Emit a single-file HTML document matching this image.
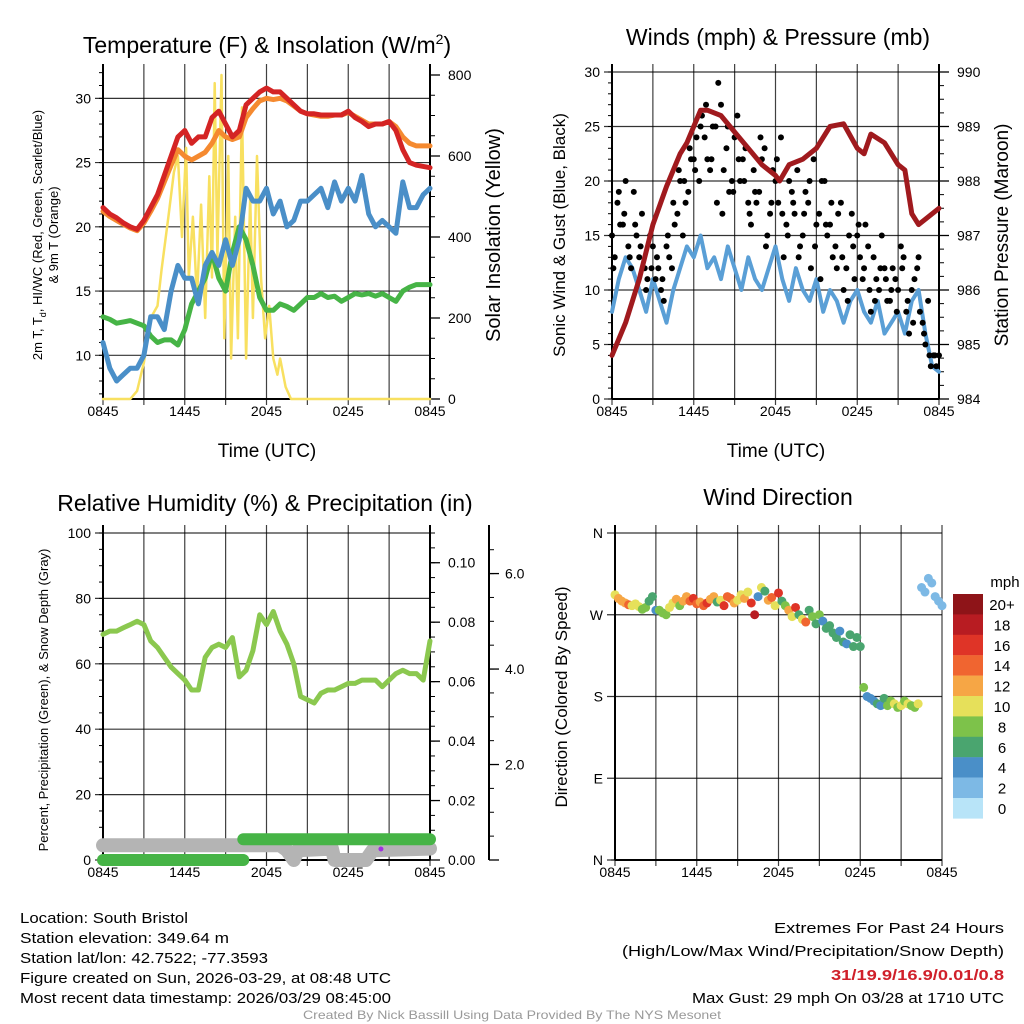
<!DOCTYPE html>
<html><head><meta charset="utf-8"><style>
body{margin:0;background:#fff;}
svg{display:block;font-family:"Liberation Sans",sans-serif;}
</style></head><body>
<svg id="s" width="1024" height="1024" viewBox="0 0 1024 1024" xmlns="http://www.w3.org/2000/svg">
<rect width="1024" height="1024" fill="#fff"/>
<g font-size="15" fill="#000">
<text x="20" y="923" textLength="168" lengthAdjust="spacingAndGlyphs">Location: South Bristol</text>
<text x="20" y="943" textLength="209" lengthAdjust="spacingAndGlyphs">Station elevation: 349.64 m</text>
<text x="20" y="963" textLength="248" lengthAdjust="spacingAndGlyphs">Station lat/lon: 42.7522; -77.3593</text>
<text x="20" y="983" textLength="371" lengthAdjust="spacingAndGlyphs">Figure created on Sun, 2026-03-29, at 08:48 UTC</text>
<text x="20" y="1003" textLength="371" lengthAdjust="spacingAndGlyphs">Most recent data timestamp: 2026/03/29 08:45:00</text>
</g>
<g font-size="15" text-anchor="end">
<text x="1004" y="933" textLength="230" lengthAdjust="spacingAndGlyphs">Extremes For Past 24 Hours</text>
<text x="1004" y="956" textLength="382" lengthAdjust="spacingAndGlyphs">(High/Low/Max Wind/Precipitation/Snow Depth)</text>
<text x="1004" y="980" font-weight="bold" fill="#d0202a" textLength="173" lengthAdjust="spacingAndGlyphs">31/19.9/16.9/0.01/0.8</text>
<text x="1004" y="1003" textLength="312" lengthAdjust="spacingAndGlyphs">Max Gust: 29 mph On 03/28 at 1710 UTC</text>
</g>
<text x="512" y="1019" font-size="12" fill="#999" text-anchor="middle" textLength="418" lengthAdjust="spacingAndGlyphs">Created By Nick Bassill Using Data Provided By The NYS Mesonet</text>
</svg>
<script>
// ---------- data ----------
const tempRed=[21.5,21,20.7,20.3,20,19.8,20.5,21.5,22.5,24,25.5,27,27.5,26.5,27,27,28.5,29,28,27,27.5,29.5,30,30.5,30.8,30.5,30.5,30,29.5,29,28.8,28.8,28.7,28.7,28.7,28.7,29,28.5,28.2,27.8,28,28,28.2,27.5,26,25,24.8,24.7,24.6];
const temp9m=[21.2,20.8,20.5,20.2,19.9,19.7,20.3,21.2,22.2,23.5,24.8,26,25.5,25.2,25.5,25.8,26.5,27.5,27,26.8,27,28.5,29.2,29.8,30,29.9,30,29.8,29.4,29,28.8,28.7,28.6,28.6,28.7,28.7,28.9,28.6,28.3,28,28,28,28.2,27.8,27,26.5,26.3,26.3,26.3];
const tempBlue=[11,9,8,8.5,9,9,10,13,13,12,15,17,16,16,14,17,18,17,19,17,19,23,22,22,23,21,22,20,20.5,22,22,22.5,23,21.5,23.5,22,23,22,24,21,20,20.5,20,19.5,23.5,21.5,21.5,22.5,23];
const dewGreen=[13,12.8,12.5,12.6,12.7,12.5,12.3,11.5,11,11.2,11.2,10.8,12,14,15,16,18,16,15,18,20,19,17,14.5,13.5,13.5,14,13.8,13.5,14,14.5,14.5,14.8,14.5,14.6,14.2,14.5,14.8,14.7,14.8,14.6,14.8,14.5,14.2,15,15.3,15.5,15.5,15.5];
const solT=[0,2,2.5,3,3.5,4,4.3,4.8,5.2,5.5,5.8,6.1,6.3,6.6,6.9,7.2,7.5,7.8,8,8.2,8.4,8.7,8.9,9.2,9.4,9.7,9.9,10.2,10.5,10.8,11,11.3,11.6,11.9,12.2,12.5,12.8,13,13.4,13.8,24];
const solV=[0,0,20,90,200,230,320,450,560,600,400,620,300,450,250,480,200,550,300,780,350,800,150,600,100,450,150,720,100,500,200,600,300,150,230,100,60,100,30,0,0];
const presT=[0,1,2,3,4,5,5.5,6.5,7,8,9,10,11,12,12.3,13,14,15,16,17,18,18.5,19,20,21,21.5,22,22.5,23,24];
const presV=[984.8,985.4,986.2,987.2,987.9,988.5,988.7,989.3,989.3,989.2,988.9,988.6,988.3,988.1,988.0,988.3,988.4,988.6,989.0,989.05,988.6,988.5,988.86,988.7,988.3,988.2,987.4,987.2,987.3,987.5];
const windBlue=[8,11,13,12,10,8,11,9,7,10,12,14,13,15,12,13,11,14,12,10,13,11,10,12,14,11,9,12,10,9,11,8,10,9,7,9,10,8,7,9,6,7,8,6,9,10,6,3,2.5];
const gustA=[15,18,16,14,19,13,12,15,11,10,14,12,17,15,19,22,20,24,21,25,27,23,20,26,22,18,21,19,23,17,20,24,16,19,21,15,18,22,17,20,16,14,18,12,17,15,11,14,13,10,12,9,11,14,8,10,12,7,9,4,4];
const gustB=[13,16,20,12,15,17,11,14,12,9,13,16,20,18,22,24,26,22,25,29,21,19,24,20,23,16,18,22,15,21,18,13,20,17,14,19,12,16,20,15,13,17,10,15,11,13,16,8,11,15,9,12,10,13,6,11,8,5,3,3];
const gustC=[12,19,17,13,16,14,10,12,13,11,15,18,21,20,23,21,25,27,22,18,17,25,19,22,20,17,19,24,14,18,22,17,15,18,13,17,20,14,11,16,18,12,13,9,14,16,12,10,9,12,11,10,8,12,9,7,13,6,4,4];
const rh=[69,70,70,71,72,73,72,67,65,62,59,57,55,52,52,62,65,66,65,68,56,58,64,75,72,76,70,66,60,50,49,48,51,52,52,53,54,54,55,55,55,53,55,57,58,57,57,55,67];
const snowT=[0,13,13.5,14,14.3,16.8,17,19.3,19.8,24];
const snowV=[4.5,4.5,3,0,3,3.5,0,0,3,3.5];
const precipT=[0,10.3,10.3,24];
const precipV=[0,0,0.007,0.007];
const dirV=[292,288,285,283,281,280,282,279,276,278,285,290,275,275,272,270,278,283,287,280,285,290,285,288,282,284,280,283,287,290,284,286,280,290,288,283,286,292,288,295,283,270,290,300,296,286,289,280,294,285,280,275,268,278,270,265,262,275,268,260,270,263,255,258,250,245,252,240,238,248,235,245,235,190,180,178,175,172,170,178,170,175,172,168,170,175,172,170,168,172,300,295,310,305,290,285,280];
const dirSpd=[10,12,12,13,15,11,10,10,8,8,6,6,4,8,8,9,10,10,12,9,13,12,15,16,14,12,14,17,13,12,6,10,16,14,14,13,10,11,13,10,17,18,4,10,6,12,14,10,16,7,8,12,10,16,6,10,14,7,9,6,8,4,6,6,6,7,4,6,5,6,6,7,6,8,4,4,5,6,5,6,8,8,10,9,10,8,10,9,8,10,2,2,2,2,2,2,2];
const timeTicks=["0845","1445","2045","0245","0845"];
const cbLabels=["20+","18","16","14","12","10","8","6","4","2","0"];
const cbColors=["#8e1418","#b81c22","#df3427","#f06530","#f6a645","#e6e05a","#7dc24a","#4aa56f","#4a8fc8","#7db9e5","#b8e4f8"];

// ---------- helpers ----------
const NS="http://www.w3.org/2000/svg", S=document.getElementById('s');
function mk(tag,attrs,parent){const e=document.createElementNS(NS,tag);for(const k in attrs)e.setAttribute(k,attrs[k]);(parent||S).appendChild(e);return e;}
function txt(x,y,str,size,parent,extra){const t=mk('text',Object.assign({x:x,y:y,'font-size':size},extra||{}),parent);t.textContent=str;return t;}
function uni(arr){return arr.map((v,i)=>i*24/(arr.length-1));}
function panel(x0,x1,y0,y1,name){
  const g=mk('g',{});
  
  
  return {g:g,x0:x0,x1:x1,y0:y0,y1:y1,sx:h=>x0+(x1-x0)*h/24};
}
function frame(P,ymin,ymax,step,minor,labels){
  const sy=v=>P.y1-(v-ymin)/(ymax-ymin)*(P.y1-P.y0);
  const gg=mk('g',{},P.g);
  
  
  for(let h=0;h<=24;h+=3){mk('line',{x1:P.sx(h),x2:P.sx(h),y1:P.y0-8,y2:P.y1+6,stroke:'#000','stroke-width':1.2,'stroke-opacity':0.75},gg);}
  for(let v=Math.ceil(ymin/step)*step;v<=ymax+1e-9;v+=step){mk('line',{x1:P.x0-8,x2:P.x1,y1:sy(v),y2:sy(v),stroke:'#000','stroke-width':1.2,'stroke-opacity':0.8},gg);
    if(labels){const t=txt(P.x0-12,sy(v)+5,labels(v),14,gg,{'text-anchor':'end'});}}
  for(let v=Math.ceil(ymin/minor)*minor;v<=ymax;v+=minor){mk('line',{x1:P.x0-4,x2:P.x0,y1:sy(v),y2:sy(v),stroke:'#000','stroke-width':1},gg);}
  mk('line',{x1:P.x0,x2:P.x0,y1:P.y0-8,y2:P.y1,stroke:'#000','stroke-width':2},gg);
  mk('line',{x1:P.x0,x2:P.x1,y1:P.y1,y2:P.y1,stroke:'#000','stroke-width':2},gg);
  timeTicks.forEach((l,i)=>{const t=txt(P.sx(i*6),P.y1+17,l,14,gg,{'text-anchor':'middle'});});
  return sy;
}
function rightAxis(P,x,ymin,ymax,step,minor,fmt,yA,yB){
  const a=yA===undefined?P.y0:yA,b=yB===undefined?P.y1:yB;
  const sy=v=>b-(v-ymin)/(ymax-ymin)*(b-a);
  const g=mk('g',{},P.g);
  
  
  mk('line',{x1:x,x2:x,y1:P.y0-8,y2:P.y1,stroke:'#000','stroke-width':2},g);
  for(let v=ymin;v<=ymax+1e-9;v+=minor){mk('line',{x1:x,x2:x+5,y1:sy(v),y2:sy(v),stroke:'#000','stroke-width':1},g);}
  for(let v=ymin;v<=ymax+1e-9;v+=step){mk('line',{x1:x,x2:x+10,y1:sy(v),y2:sy(v),stroke:'#000','stroke-width':1.3},g);
    if(fmt){const t=txt(x+18,sy(v)+5,fmt(v),14,g);}}
  return sy;
}
function line(P,ts,vs,sy,color,w,name){
  const d=ts.map((t,i)=>(i?'L':'M')+P.sx(t).toFixed(1)+','+sy(vs[i]).toFixed(1)).join('');
  const p=mk('path',{d:d,fill:'none',stroke:color,'stroke-width':w,'stroke-linejoin':'round','stroke-linecap':'round'},P.g);
  
  
  return p;
}
function vlabel(x,y,str,size,extra){const t=txt(0,0,str,size,S,Object.assign({'text-anchor':'middle',transform:`translate(${x},${y}) rotate(-90)`},extra||{}));return t;}

// ---------- Panel 1: temperature ----------
const P1=panel(103,430,72,399,'temperature-panel');
const sy1=frame(P1,6.6,32.05,5,1,v=>String(v));
const sySol=rightAxis(P1,430,0,800,200,50,v=>String(v),75,399);
line(P1,solT,solV,v=>sySol(v),'#f8e060',2.5,'insolation-line');
line(P1,uni(dewGreen),dewGreen,sy1,'#46b446',5,'dewpoint-line');
line(P1,uni(tempBlue),tempBlue,sy1,'#4a8fc8',5,'windchill-line');
line(P1,uni(temp9m),temp9m,sy1,'#f58a30',5,'temp-9m-line');
line(P1,uni(tempRed),tempRed,sy1,'#d42424',5,'temp-2m-line');
let t=txt(267,53,'Temperature (F) & Insolation (W/m',23,S,{'text-anchor':'middle'});

const ts=mk('tspan',{dy:-9,'font-size':14},t);ts.textContent='2';
const ts2=mk('tspan',{dy:9},t);ts2.textContent=')';
t=txt(267,457,'Time (UTC)',19,S,{'text-anchor':'middle'});
t=vlabel(42,235,'2m T, T',13);
const sub=mk('tspan',{dy:4,'font-size':9},t);sub.textContent='d';const r=mk('tspan',{dy:-4},t);r.textContent=', HI/WC (Red, Green, Scarlet/Blue)';
t=vlabel(58,235,'& 9m T (Orange)',13);
t=vlabel(500,235,'Solar Insolation (Yellow)',20);

// ---------- Panel 2: winds ----------
const P2=panel(612,939,72,399,'winds-panel');
const sy2=frame(P2,0,30,5,1,v=>String(v));
const syP=rightAxis(P2,939,984,990,1,0.25,v=>String(v));
line(P2,uni(windBlue),windBlue,sy2,'#5a9fd6',4,'sonic-wind-line');
gustA.forEach((v,i)=>{const c=mk('circle',{cx:P2.sx(i*0.4),cy:sy2(v),r:3,fill:'#000'},P2.g);});
gustB.forEach((v,i)=>{const c=mk('circle',{cx:P2.sx(0.2+i*0.4),cy:sy2(v),r:3,fill:'#000'},P2.g);});
gustC.forEach((v,i)=>{const c=mk('circle',{cx:P2.sx(0.1+i*0.4),cy:sy2(v),r:3,fill:'#000'},P2.g);});
line(P2,presT,presV,syP,'#a01a1e',5,'pressure-line');
t=txt(778,45,'Winds (mph) & Pressure (mb)',23,S,{'text-anchor':'middle'});
t=txt(776,457,'Time (UTC)',19,S,{'text-anchor':'middle'});
t=vlabel(565,235,'Sonic Wind & Gust (Blue, Black)',17);
t=vlabel(1008,235,'Station Pressure (Maroon)',19);

// ---------- Panel 3: RH ----------
const P3=panel(103,430,533,860,'humidity-panel');
const sy3=frame(P3,0,100,20,5,v=>String(v));
const syPr=rightAxis(P3,430,0,0.11,0.02,0.005,v=>v.toFixed(2),533,860);
const sySn=rightAxis(P3,489,0,6.85,2,0.5,null,533,860);
[2,4,6].forEach(v=>{const t2=txt(505,sySn(v)+5,v.toFixed(1),14,P3.g);});
line(P3,snowT,snowV,sy3,'#b4b4b4',14,'snow-depth-line');
line(P3,precipT.slice(0,2),precipV.slice(0,2),syPr,'#46b446',12,'precip-line-a');
line(P3,precipT.slice(2),precipV.slice(2),syPr,'#46b446',12,'precip-line-b');
line(P3,uni(rh),rh,sy3,'#8bc84f',5,'rh-line');
const pd=mk('circle',{cx:P3.sx(20.4),cy:849,r:2.5,fill:'#a030e0'},P3.g);
t=txt(265,511,'Relative Humidity (%) & Precipitation (in)',23,S,{'text-anchor':'middle'});
t=vlabel(48,700,'Percent, Precipitation (Green), & Snow Depth (Gray)',13);

// ---------- Panel 4: direction ----------
const P4=panel(615,942,533,860,'direction-panel');
const sy4=frame(P4,0,360,90,1000,v=>['N','E','S','W','N'][v/90]);
dirV.forEach((v,i)=>{const b=Math.min(10,Math.floor(dirSpd[i]/2));const c=mk('circle',{cx:P4.sx(i*0.25),cy:sy4(v),r:4.5,fill:cbColors[10-b]},P4.g);});
const cb=mk('g',{});
cbColors.forEach((c,i)=>{mk('rect',{x:953,y:594+i*20.4,width:30,height:20.6,fill:c},cb);const l=txt(1002,594+i*20.4+16,cbLabels[i],15,cb,{'text-anchor':'middle'});});
txt(1005,587,'mph',15,cb,{'text-anchor':'middle'});
t=txt(778,505,'Wind Direction',23,S,{'text-anchor':'middle'});
t=vlabel(567,697,'Direction (Colored By Speed)',17);
</script>
</body></html>
